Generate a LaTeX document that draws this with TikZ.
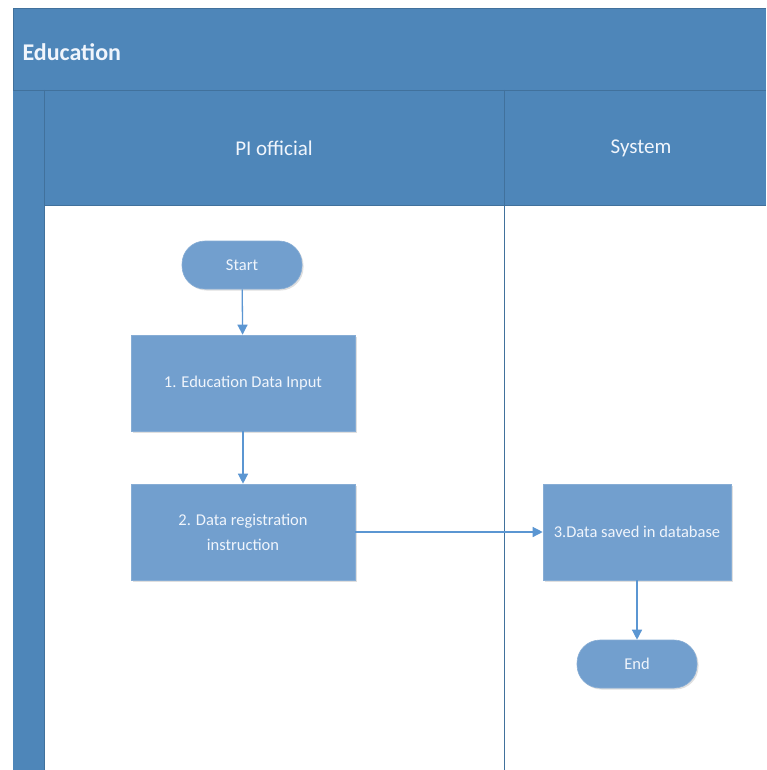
\documentclass[tikz,border=0pt]{standalone}
\usepackage{fontspec}
\setmainfont{Carlito}
\usetikzlibrary{arrows.meta,shadows}
\definecolor{hdr}{RGB}{78,134,185}
\definecolor{hdrline}{RGB}{65,113,156}
\definecolor{boxfill}{RGB}{114,159,206}
\definecolor{arr}{RGB}{91,150,210}
\definecolor{txt}{RGB}{240,245,252}
\tikzset{
  x=1pt,y=-1pt,
  procbox/.style={rectangle,fill=boxfill,draw=boxfill!85!white,line width=0.6pt,
    minimum width=224pt,minimum height=96pt,text=txt,font=\fontsize{16.5}{25}\selectfont,
    align=center,drop shadow={shadow xshift=1.5pt,shadow yshift=-1.5pt,opacity=0.25}},
  termbox/.style={rectangle,rounded corners=23pt,fill=boxfill,draw=boxfill!85!white,line width=0.6pt,
    minimum width=120pt,minimum height=48pt,text=txt,font=\fontsize{16.5}{20}\selectfont,
    drop shadow={shadow xshift=1.5pt,shadow yshift=-1.5pt,opacity=0.25}},
  flow/.style={draw=arr,line width=1.3pt,-{Triangle[length=10pt,width=10pt]}},
  lanelbl/.style={text=txt,font=\fontsize{21}{24}\selectfont},
}
\begin{document}
\begin{tikzpicture}
\useasboundingbox (0,0) rectangle (766,770);
\fill[white] (0,0) rectangle (766,770);
% title band
\fill[hdr] (13,9) rectangle (766,90);
\draw[hdrline,line width=1pt] (766,9) -- (13,9) -- (13,770);
\node[anchor=west,text=txt,font=\bfseries\fontsize{24}{28}\selectfont] (title) at (19,52) {Education};
% left strip
\fill[hdr] (13,90) rectangle (44,770);
% lane header
\fill[hdr] (44,90) rectangle (766,205);
\draw[hdrline,line width=0.8pt] (13,90) -- (766,90);
\draw[hdrline,line width=0.8pt] (44,90) -- (44,770);
\draw[hdrline,line width=0.8pt] (44,205) -- (766,205);
\draw[hdrline,line width=1pt] (504,90) -- (504,770);
\node[lanelbl] (pi) at (274,148) {PI official};
\node[lanelbl] (sys) at (641,148) {System};
% nodes
\node[termbox] (start) at (242,265) {Start};
\node[procbox] (s1) at (243,383) {1. Education Data Input};
\node[procbox] (s2) at (243,532) {2. Data registration\\instruction};
\node[procbox,minimum width=188pt] (s3) at (637,532) {3.Data saved in database};
\node[termbox] (end) at (637,664) {End};
% connectors
\draw[flow] (start) -- (s1);
\draw[flow] (s1) -- (s2);
\draw[flow] (s2) -- (s3);
\draw[flow] (s3) -- (end);
\end{tikzpicture}
\end{document}
